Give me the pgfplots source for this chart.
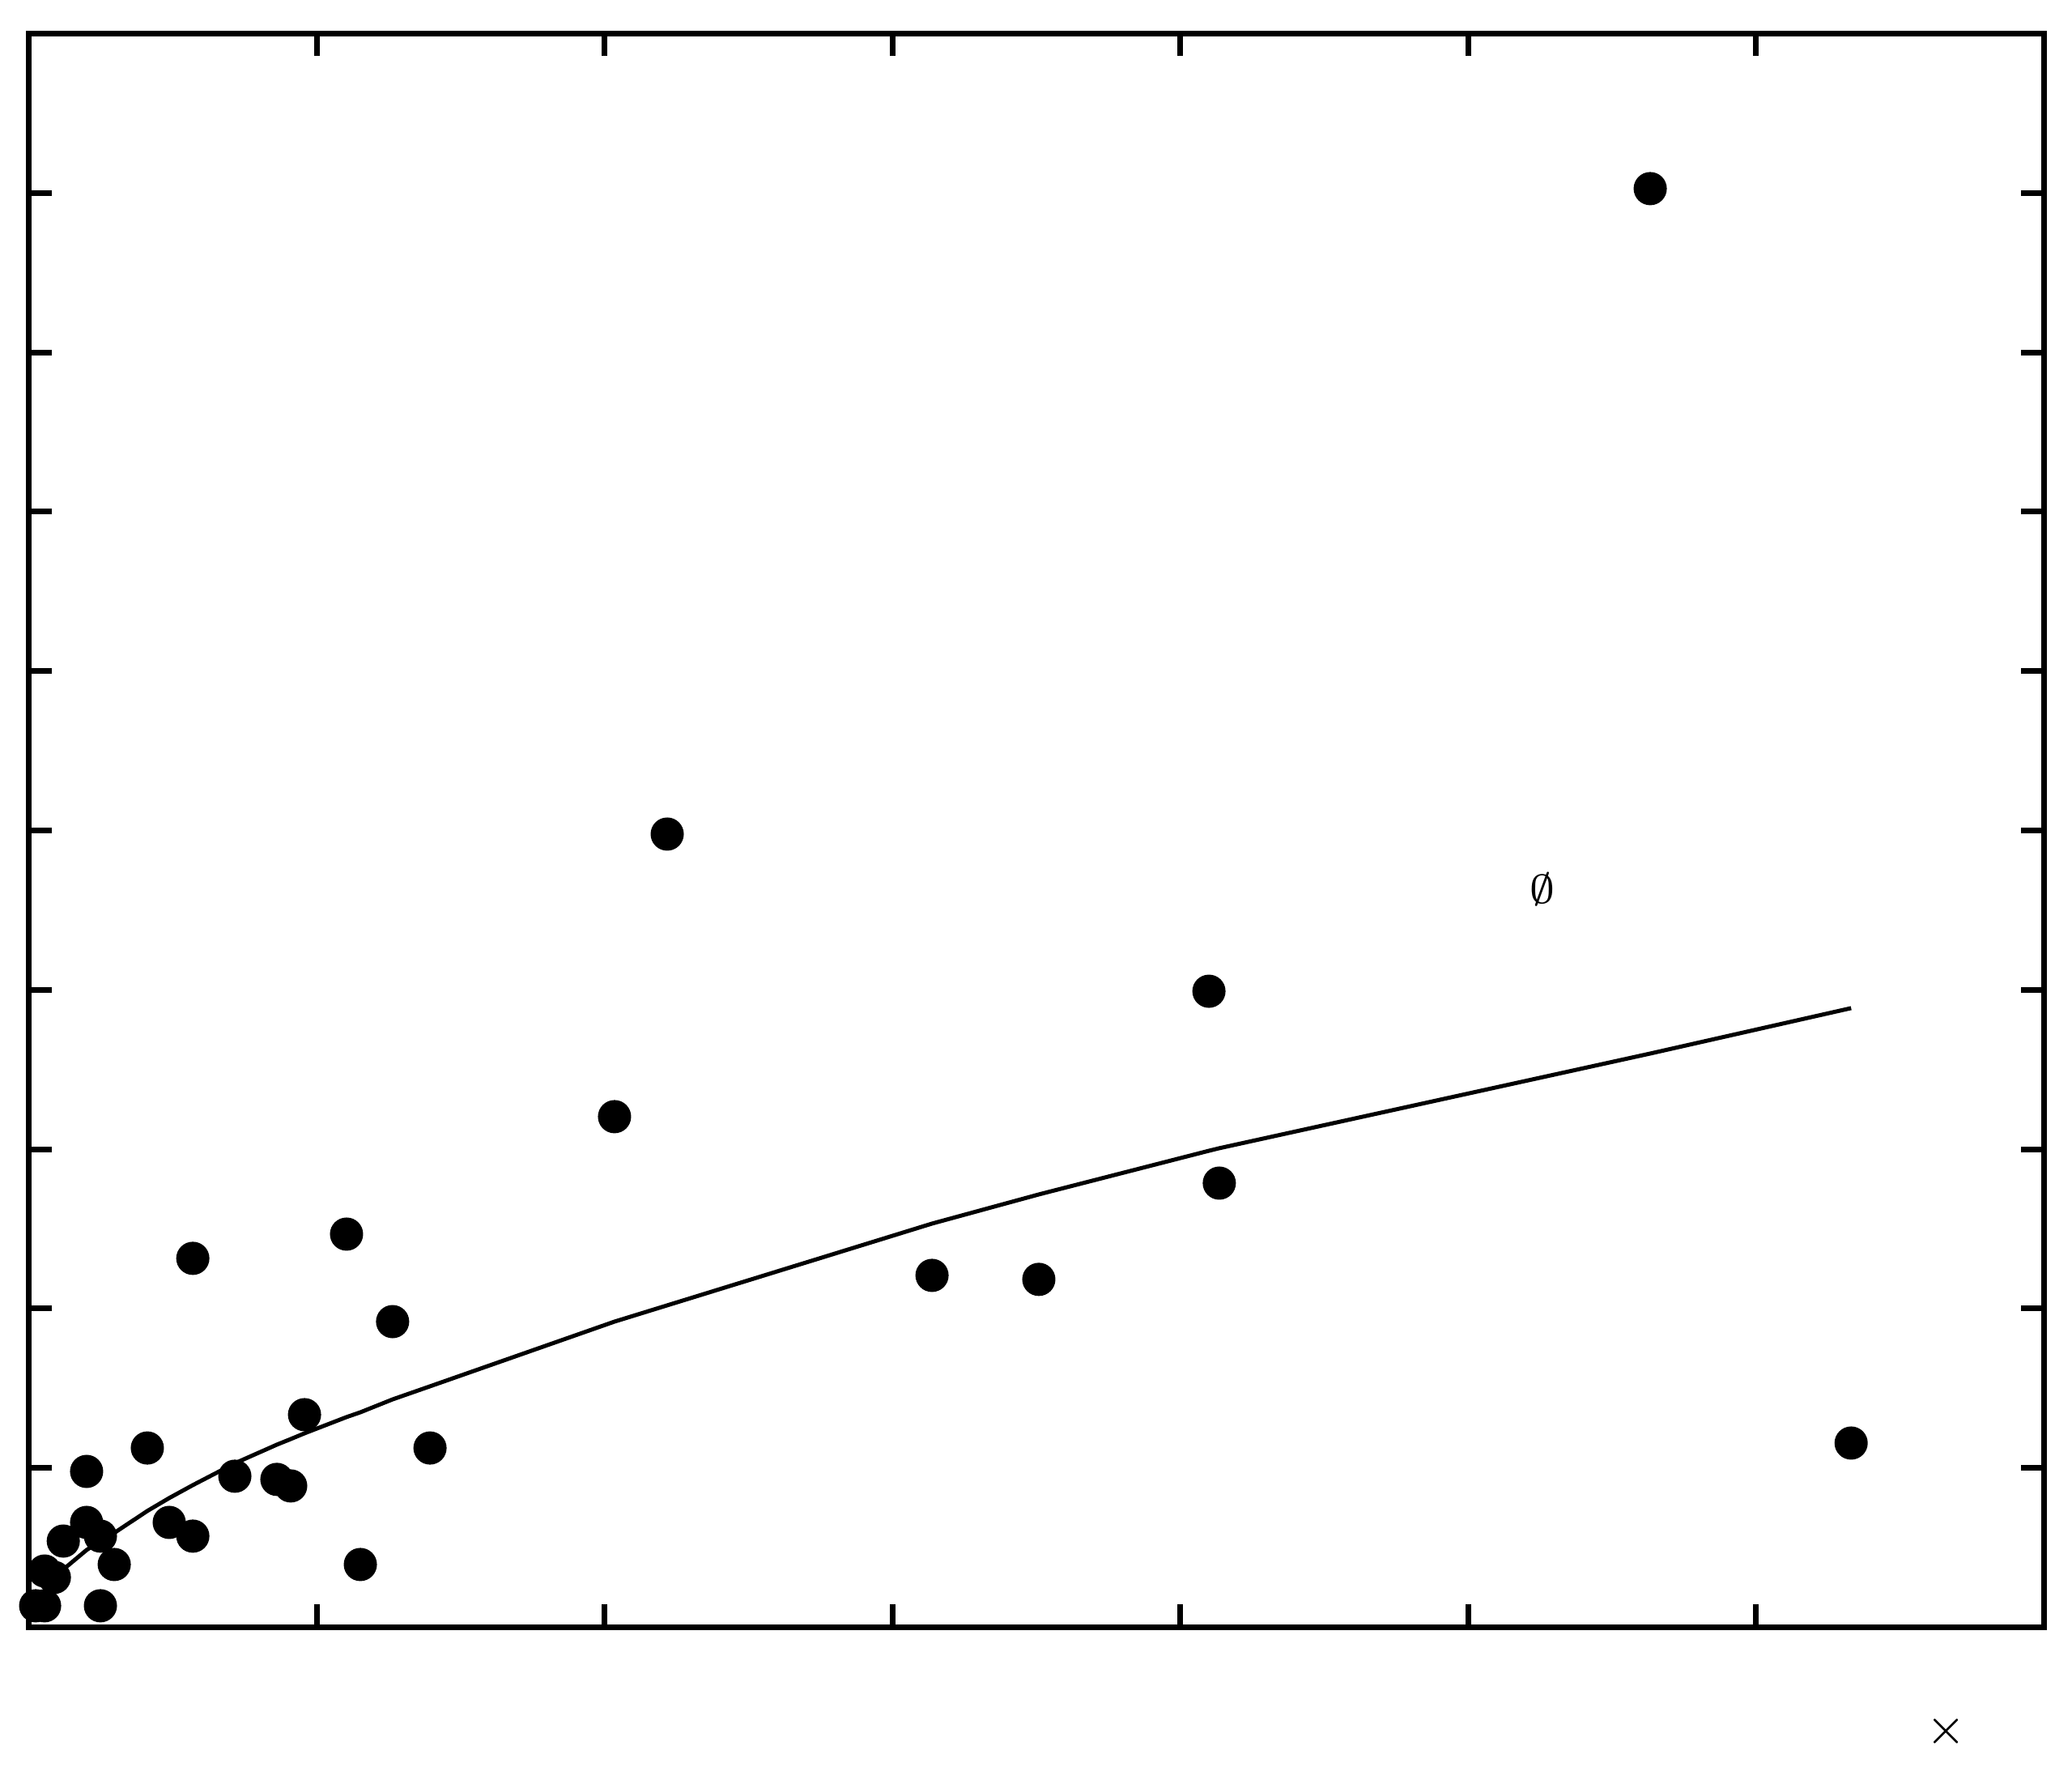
\documentclass[border=0pt]{standalone}
\usepackage{pgfplots}
\pgfplotsset{compat=1.18}

\begin{document}
\begin{tikzpicture}
\begin{axis}[
    scale only axis,
    width=248.85pt, height=196.8pt,
    xmin=0, xmax=7, ymin=0, ymax=10,
    xtick={1,...,6}, ytick={1,...,9},
    xticklabels={}, yticklabels={},
    tick align=inside,
    major tick length=2.8pt,
    every tick/.style={black, line width=0.7pt},
    axis line style={line width=0.7pt},
    clip=false,
]
% fitted curve, sampled at the data x values
\addplot[no marks, black, line width=0.5pt] coordinates {
    (0.024,0.150) (0.055,0.226) (0.089,0.292) (0.120,0.363)
    (0.201,0.485) (0.249,0.541) (0.297,0.592) (0.412,0.730)
    (0.488,0.811) (0.570,0.892) (0.716,1.029) (0.862,1.146)
    (0.910,1.181) (0.958,1.217) (1.104,1.319) (1.152,1.349)
    (1.264,1.430) (1.394,1.512) (2.035,1.918) (2.218,2.020)
    (3.138,2.533) (3.509,2.716) (4.100,2.990) (4.136,3.006)
    (5.633,3.600) (6.331,3.885)
};
% observations
\addplot[only marks, mark=*, mark size=1.85pt,
    mark options={fill=black, draw=black, line width=0.4pt}] coordinates {
    (0.024,0.135) (0.055,0.135) (0.249,0.135) (0.055,0.353)
    (0.089,0.313) (0.120,0.541) (0.249,0.572) (0.201,0.658)
    (0.297,0.394) (0.201,0.978) (0.412,1.125) (0.488,0.658)
    (0.570,0.572) (0.570,2.315) (0.716,0.948) (0.862,0.928)
    (0.910,0.887) (0.958,1.334) (1.104,2.467) (1.152,0.394)
    (1.264,1.918) (1.394,1.125) (2.035,3.204) (2.218,4.977)
    (3.138,2.208) (3.509,2.183) (4.100,3.991) (4.136,2.787)
    (5.633,9.027) (6.331,1.156)
};
\node[inner sep=0pt, font=\fontsize{5.2}{6}\selectfont] at (axis cs:5.259,4.632) {$\emptyset$};
\node[inner sep=0pt, font=\fontsize{5.2}{6}\selectfont] at (axis cs:6.660,-0.653) {$\times$};
\end{axis}
\pgfresetboundingbox
\path (current axis.south west) +(-3.55pt,-17.25pt) (current axis.north east) +(3.5pt,4.15pt);
\end{tikzpicture}
\end{document}
